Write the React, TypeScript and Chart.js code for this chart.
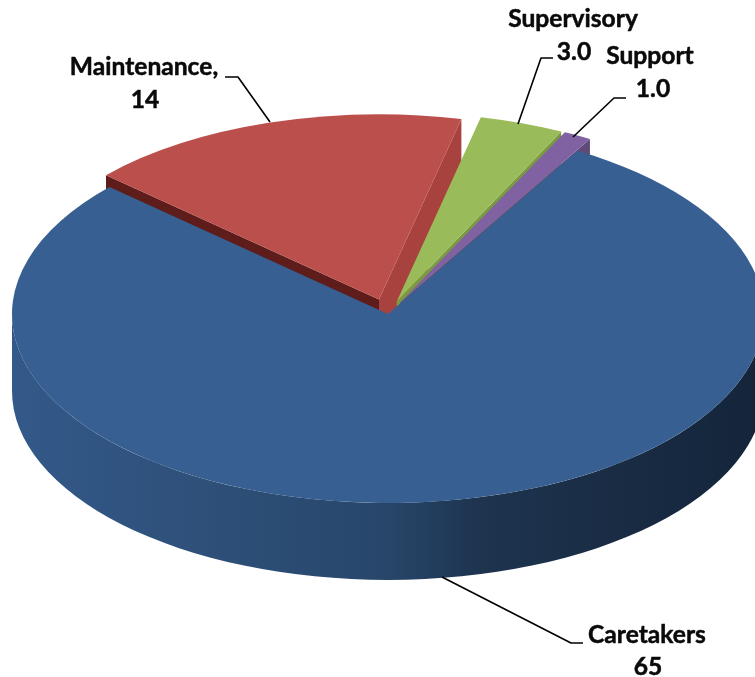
import React, { useEffect, useRef } from "react";
import { Chart, registerables } from "chart.js";

Chart.register(...registerables);

const categories = ["Maintenance", "Supervisory", "Support", "Caretakers"];
const values = [14, 3, 1, 65];
const valueLabels = ["14", "3.0", "1.0", "65"];
const nameLabels = ["Maintenance,", "Supervisory", "Support", "Caretakers"];

const faceColors = ["#bb4f4c", "#9abb59", "#8061a1", "#375f91"];
const startWallColors = ["#5e1c1a", null, null, null];
const endWallColors = ["#a8423f", "#7a9a3f", "#5f4a7a", null];
const explode = [0.08, 0.07, 0.07, 0];
const radiusScale = [0.98, 1, 1, 1];

const PIE = { cx: 388, cy: 314, rx: 376, ry: 189, depth: 77, rotation: -47.8 };
const RIM_STOPS: [number, string][] = [
  [0, "#33598a"],
  [0.25, "#2e5079"],
  [0.5, "#27466a"],
  [0.62, "#1e344f"],
  [0.8, "#192c44"],
  [1, "#14253a"],
];

// name/value text anchors and leader polylines
const LABELS = [
  { name: [144, 75], value: [145, 108], leader: [[270, 122], [238, 77], [225, 77]] },
  { name: [573, 27], value: [574, 60], leader: [[518, 124], [541, 58], [553, 58]] },
  { name: [650, 64], value: [653, 97], leader: [[573, 137], [614, 98], [626, 98]] },
  { name: [647, 643], value: [648, 675], leader: [[442, 577], [571, 643], [583, 643]] },
];

const pie3d = {
  id: "pie3d",
  afterDatasetUpdate(chart: any, args: any) {
    const arcs = args.meta.data;
    arcs.forEach((arc: any, i: number) => {
      const mid = (arc.startAngle + arc.endAngle) / 2;
      const d = explode[i] * arc.outerRadius;
      arc.$baseX = arc.x;
      arc.$baseY = arc.y;
      arc.$baseR = arc.outerRadius;
      arc.x += Math.cos(mid) * d;
      arc.y += Math.sin(mid) * d;
      arc.outerRadius *= radiusScale[i];
    });
  },
  beforeDatasetsDraw(chart: any) {
    const { ctx } = chart;
    const arcs = chart.getDatasetMeta(0).data;
    const R = arcs[0].$baseR;
    const sx = PIE.rx / R;
    const sy = PIE.ry / R;
    const center = (arc: any) => [
      PIE.cx + (arc.x - arc.$baseX) * sx,
      PIE.cy + (arc.y - arc.$baseY) * sy,
    ];
    const radialWall = (arc: any, angle: number, color: string) => {
      const [x, y] = center(arc);
      const k = arc.outerRadius / R;
      const ox = x + Math.cos(angle) * PIE.rx * k;
      const oy = y + Math.sin(angle) * PIE.ry * k;
      ctx.beginPath();
      ctx.moveTo(x, y);
      ctx.lineTo(ox, oy);
      ctx.lineTo(ox, oy + PIE.depth);
      ctx.lineTo(x, y + PIE.depth);
      ctx.closePath();
      ctx.fillStyle = color;
      ctx.fill();
    };
    ctx.save();
    arcs.forEach((arc: any, i: number) => {
      if (startWallColors[i]) radialWall(arc, arc.startAngle, startWallColors[i] as string);
      if (endWallColors[i]) radialWall(arc, arc.endAngle, endWallColors[i] as string);
    });
    // the rim of the large slice, front half only
    const big = arcs[arcs.length - 1];
    const [bx, by] = center(big);
    const grad = ctx.createLinearGradient(bx - PIE.rx, 0, bx + PIE.rx, 0);
    RIM_STOPS.forEach(([p, c]) => grad.addColorStop(p, c));
    ctx.beginPath();
    ctx.ellipse(bx, by, PIE.rx, PIE.ry, 0, 0, Math.PI);
    ctx.ellipse(bx, by + PIE.depth, PIE.rx, PIE.ry, 0, Math.PI, 0, true);
    ctx.closePath();
    ctx.fillStyle = grad;
    ctx.fill();
    ctx.restore();

    ctx.save();
    ctx.translate(PIE.cx, PIE.cy);
    ctx.scale(sx, sy);
    ctx.translate(-big.$baseX, -big.$baseY);
  },
  afterDatasetsDraw(chart: any) {
    const { ctx } = chart;
    ctx.restore();
    ctx.save();
    ctx.strokeStyle = "#000000";
    ctx.lineWidth = 1.6;
    ctx.lineJoin = "round";
    LABELS.forEach((l) => {
      ctx.beginPath();
      l.leader.forEach(([x, y], k) => (k ? ctx.lineTo(x, y) : ctx.moveTo(x, y)));
      ctx.stroke();
    });
    ctx.fillStyle = "#0a0a0a";
    ctx.strokeStyle = "#0a0a0a";
    ctx.lineWidth = 0.5;
    ctx.font = "700 24.6px Lato";
    ctx.textAlign = "center";
    ctx.textBaseline = "alphabetic";
    LABELS.forEach((l, i) => {
      ctx.fillText(nameLabels[i], l.name[0], l.name[1]);
      ctx.strokeText(nameLabels[i], l.name[0], l.name[1]);
      ctx.fillText(valueLabels[i], l.value[0], l.value[1]);
      ctx.strokeText(valueLabels[i], l.value[0], l.value[1]);
    });
    ctx.restore();
  },
};

export default function App() {
  const ref = useRef<HTMLCanvasElement | null>(null);
  useEffect(() => {
    const chart = new Chart(ref.current as HTMLCanvasElement, {
      type: "pie",
      data: {
        labels: categories,
        datasets: [
          {
            data: values,
            backgroundColor: faceColors,
            borderWidth: 0,
            clip: false,
          } as any,
        ],
      },
      options: {
        responsive: false,
        animation: false,
        rotation: PIE.rotation,
        plugins: { legend: { display: false }, tooltip: { enabled: false } },
      },
      plugins: [pie3d],
    } as any);
    return () => chart.destroy();
  }, []);
  return (
    <div style={{ position: "absolute", left: 0, top: 0, width: 755, height: 677, background: "#fff" }}>
      <canvas ref={ref} width={755} height={677} style={{ display: "block" }} />
    </div>
  );
}
